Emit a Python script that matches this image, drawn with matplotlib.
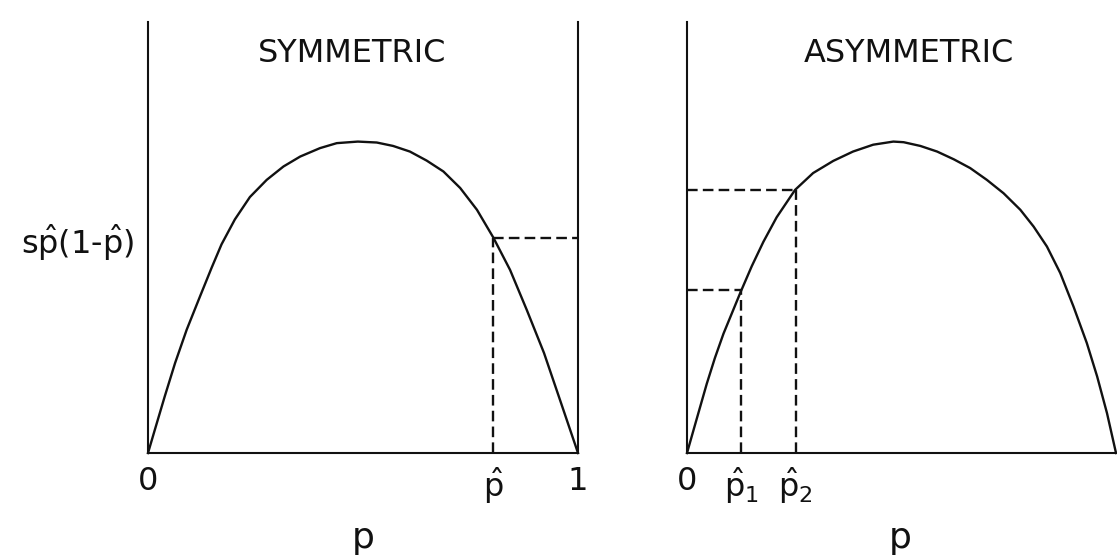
import numpy as np
import matplotlib
matplotlib.use("Agg")
import matplotlib.pyplot as plt

plt.rcParams['font.family'] = ['DejaVu Sans']
plt.rcParams['mathtext.fontset'] = 'dejavusans'
plt.rcParams['mathtext.default'] = 'regular'

# symmetric curve (p, relative height)
p_sym = [0, 0.016, 0.039, 0.063, 0.090, 0.121, 0.148, 0.171, 0.202, 0.237, 0.276,
         0.315, 0.354, 0.400, 0.439, 0.488, 0.532, 0.570, 0.609, 0.648, 0.687,
         0.726, 0.765, 0.803, 0.842, 0.881, 0.921, 0.958, 1.0]
f_sym = [0, 0.075, 0.182, 0.289, 0.396, 0.503, 0.595, 0.670, 0.750, 0.822, 0.877,
         0.920, 0.952, 0.979, 0.995, 1.0, 0.997, 0.986, 0.968, 0.939, 0.904,
         0.851, 0.781, 0.692, 0.588, 0.459, 0.321, 0.171, 0]

# asymmetric curve
p_asym = [0, 0.019, 0.046, 0.065, 0.085, 0.105, 0.125, 0.151, 0.178, 0.209, 0.252,
          0.294, 0.341, 0.387, 0.434, 0.481, 0.505, 0.544, 0.583, 0.622, 0.660,
          0.699, 0.738, 0.777, 0.808, 0.839, 0.870, 0.901, 0.932, 0.956, 0.979, 1.0]
f_asym = [0, 0.092, 0.222, 0.305, 0.383, 0.450, 0.517, 0.600, 0.678, 0.757, 0.845,
          0.899, 0.938, 0.968, 0.990, 1.0, 0.998, 0.986, 0.968, 0.943, 0.915,
          0.877, 0.834, 0.781, 0.727, 0.663, 0.578, 0.470, 0.353, 0.246, 0.128, 0]

# equilibrium points
p_hat_sym, f_hat_sym = 0.803, 0.690
p_hat_asym = [0.127, 0.253]
f_hat_asym = [0.522, 0.845]

titles = ['SYMMETRIC', 'ASYMMETRIC']
sym_ticks = ['0', r'$\hat{p}$', '1']
asym_ticks = ['0', r'$\hat{p}_1$', r'$\hat{p}_2$']
ylab = r'$s\hat{p}$(1-$\hat{p}$)'

W, H = 1117, 556
fig = plt.figure(figsize=(W / 100, H / 100), dpi=100)
ax1 = fig.add_axes([148 / W, 103 / H, 430 / W, 431 / H])
ax2 = fig.add_axes([687 / W, 103 / H, 429 / W, 431 / H])

lw = 1.7
dash = (4.5, 2.2)
ink = '#111111'
ytop = 1.384

for ax in (ax1, ax2):
    ax.set_xlim(0, 1)
    ax.set_ylim(0, ytop)
    ax.spines['top'].set_visible(False)
    for s in ax.spines.values():
        s.set_linewidth(1.5)
        s.set_color(ink)
    ax.tick_params(length=0, labelsize=23, pad=9, colors=ink)
    ax.patch.set_alpha(0)

ax2.spines['right'].set_visible(False)

# left panel
ax1.plot(p_sym, f_sym, color=ink, lw=lw, clip_on=False, solid_joinstyle='round')
ax1.plot([p_hat_sym, p_hat_sym], [0, f_hat_sym], color=ink, lw=lw, dashes=dash)
ax1.plot([p_hat_sym, 1], [f_hat_sym, f_hat_sym], color=ink, lw=lw, dashes=dash)
ax1.set_xticks([0, p_hat_sym, 1])
ax1.set_xticklabels(sym_ticks)
ax1.set_yticks([f_hat_sym])
ax1.set_yticklabels([ylab], fontsize=23)
ax1.tick_params(axis='y', pad=10)

# right panel
ax2.plot(p_asym, f_asym, color=ink, lw=lw, clip_on=False, solid_joinstyle='round')
for ph, fh in zip(p_hat_asym, f_hat_asym):
    ax2.plot([ph, ph], [0, fh], color=ink, lw=lw, dashes=dash)
    ax2.plot([0, ph], [fh, fh], color=ink, lw=lw, dashes=dash)
ax2.set_xticks([0] + p_hat_asym)
ax2.set_xticklabels(asym_ticks)
ax2.set_yticks([])

ax1.text(0.474, 0.926, titles[0], transform=ax1.transAxes, ha='center', va='center',
         fontsize=23, color=ink)
ax2.text(0.517, 0.926, titles[1], transform=ax2.transAxes, ha='center', va='center',
         fontsize=23, color=ink)

ax1.text(0.5, -0.197, 'p', transform=ax1.transAxes, ha='center', va='center', fontsize=26, color=ink)
ax2.text(0.497, -0.197, 'p', transform=ax2.transAxes, ha='center', va='center', fontsize=26, color=ink)

fig.savefig('out.png', dpi=100)
